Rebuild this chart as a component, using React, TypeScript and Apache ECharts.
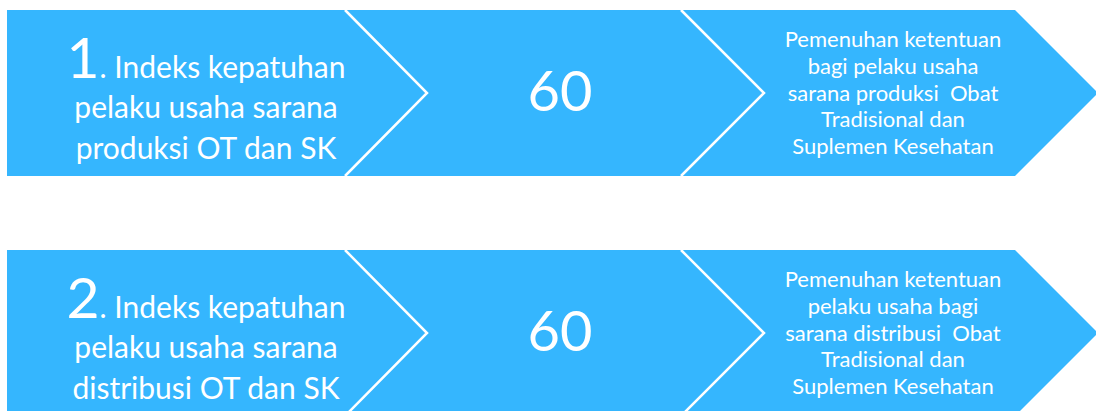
import { useEffect, useRef } from "react";
import * as echarts from "echarts";

// ---- Data ----
const itemNumbers = ["1", "2"];
const itemTitles = [". Indeks kepatuhan", ". Indeks kepatuhan"];
const itemSubtitles = [
  "pelaku usaha sarana\nproduksi OT dan SK",
  "pelaku usaha sarana\ndistribusi OT dan SK",
];
const itemValues = [60, 60];
const itemDescriptions = [
  "Pemenuhan ketentuan\nbagi pelaku usaha\nsarana produksi  Obat\nTradisional dan\nSuplemen Kesehatan",
  "Pemenuhan ketentuan\npelaku usaha bagi\nsarana distribusi  Obat\nTradisional dan\nSuplemen Kesehatan",
];

// ---- Layout / style ----
const BLUE = "#35B6FE";
const WHITE = "#FFFFFF";
const FONT = "Lato, 'Open Sans', sans-serif";
const ROW_TOPS = [10, 250];
const ROW_H = 166;
const LEFT = 7;
const FLAT_END = 1015;
const TIP = 1098;
const DIV1 = [345, 427];
const DIV2 = [681, 764];

function buildRow(i: number) {
  const top = ROW_TOPS[i];
  const mid = top + ROW_H / 2;
  const bottom = top + ROW_H;
  return [
    {
      type: "polygon",
      shape: {
        points: [
          [LEFT, top],
          [FLAT_END, top],
          [TIP, mid],
          [FLAT_END, bottom],
          [LEFT, bottom],
        ],
      },
      style: { fill: BLUE },
    },
    {
      type: "polyline",
      shape: { points: [[DIV1[0], top], [DIV1[1], mid], [DIV1[0], bottom]] },
      style: { stroke: WHITE, lineWidth: 2.5, fill: null },
    },
    {
      type: "polyline",
      shape: { points: [[DIV2[0], top], [DIV2[1], mid], [DIV2[0], bottom]] },
      style: { stroke: WHITE, lineWidth: 2.5, fill: null },
    },
    {
      type: "text",
      x: 206,
      y: top + 74,
      style: {
        text: `{n|${itemNumbers[i]}}{t|${itemTitles[i]}}`,
        align: "center",
        verticalAlign: "bottom",
        fill: WHITE,
        rich: {
          n: {
            fontFamily: FONT,
            fontSize: 57,
            fill: WHITE,
            verticalAlign: "bottom",
          },
          t: {
            fontFamily: FONT,
            fontSize: 30,
            fill: WHITE,
            verticalAlign: "bottom",
            padding: [0, 0, 3, 0],
          },
        },
      },
    },
    {
      type: "text",
      x: 206,
      y: top + 116,
      style: {
        text: itemSubtitles[i],
        align: "center",
        verticalAlign: "middle",
        fontFamily: FONT,
        fontSize: 30,
        lineHeight: 41,
        fill: WHITE,
      },
    },
    {
      type: "text",
      x: 560,
      y: top + 79,
      style: {
        text: String(itemValues[i]),
        align: "center",
        verticalAlign: "middle",
        fontFamily: FONT,
        fontSize: 56,
        fill: WHITE,
      },
    },
    {
      type: "text",
      x: 893,
      y: top + 82,
      style: {
        text: itemDescriptions[i],
        align: "center",
        verticalAlign: "middle",
        fontFamily: FONT,
        fontSize: 22,
        lineHeight: 26.6,
        fill: WHITE,
      },
    },
  ];
}

export default function App() {
  const ref = useRef<HTMLDivElement>(null);
  useEffect(() => {
    if (!ref.current) return;
    const chart = echarts.init(ref.current, undefined, { renderer: "svg" });
    const elements: any[] = [];
    itemValues.forEach((_, i) => elements.push(...buildRow(i)));
    chart.setOption({
      animation: false,
      backgroundColor: "#FFFFFF",
      graphic: { elements },
    });
    return () => chart.dispose();
  }, []);
  return (
    <div
      ref={ref}
      style={{ position: "absolute", left: 0, top: 0, width: 1096, height: 411 }}
    />
  );
}
